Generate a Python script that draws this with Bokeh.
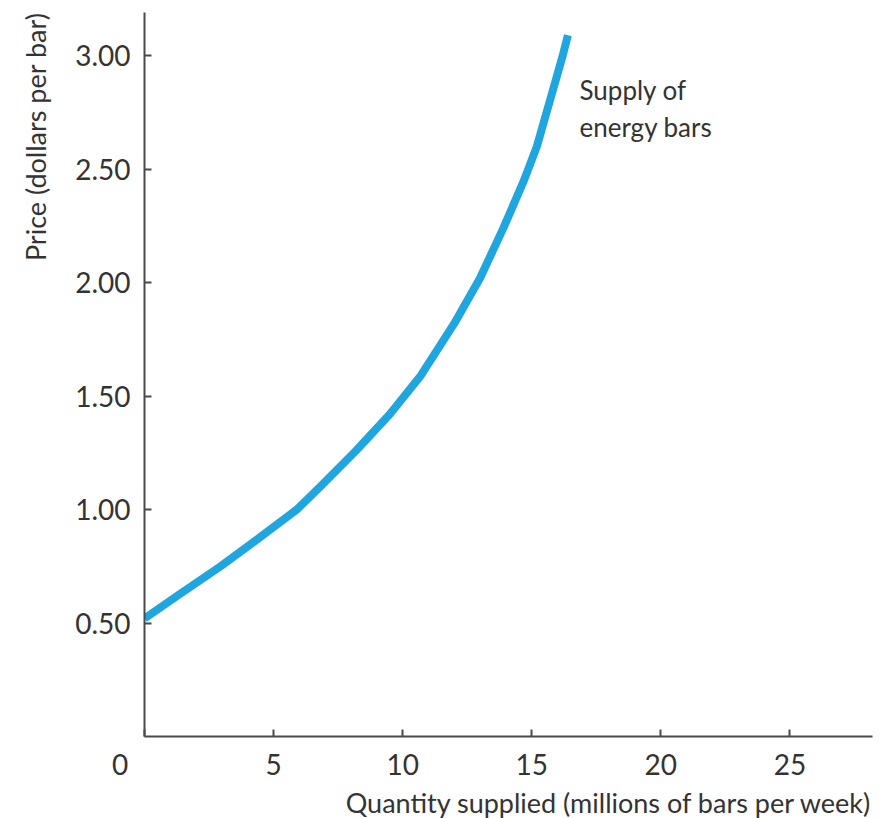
from bokeh.plotting import figure
from bokeh.models import FixedTicker, CustomJSTickFormatter, Label, Title
from bokeh.embed import file_html
from bokeh.resources import INLINE

# Supply schedule: quantity supplied (millions of bars per week) vs price (dollars per bar)
quantity = [0.0, 1.4, 2.95, 4.5, 5.9, 6.8, 8.2, 9.5, 10.7, 12.0, 13.0, 13.9, 14.7, 15.2, 15.7, 16.2, 16.4]
price = [0.52, 0.63, 0.75, 0.88, 1.00, 1.10, 1.26, 1.42, 1.59, 1.82, 2.02, 2.24, 2.45, 2.60, 2.80, 3.00, 3.09]

x_ticks = [0, 5, 10, 15, 20, 25]
y_ticks = [0.5, 1.0, 1.5, 2.0, 2.5, 3.0]

FONT = "Lato"
TEXT = "#333333"
AXIS = "#4a4a4a"
CURVE = "#1fa6de"

p = figure(width=888, height=818, output_backend="svg", toolbar_location=None,
           x_range=(0, 28.2), y_range=(0, 3.19),
           min_border_left=144, min_border_right=16,
           min_border_top=12, min_border_bottom=78)
p.outline_line_color = None
p.grid.visible = False
p.background_fill_color = "white"

p.line(quantity, price, line_color=CURVE, line_width=8, line_cap="butt", line_join="round")

for ax in (p.xaxis[0], p.yaxis[0]):
    ax.axis_line_color = AXIS
    ax.axis_line_width = 2
    ax.major_tick_line_color = AXIS
    ax.major_tick_line_width = 2
    ax.major_tick_in = 7
    ax.major_tick_out = 0
    ax.minor_tick_line_color = None
    ax.major_label_text_font = FONT
    ax.major_label_text_font_size = "28px"
    ax.major_label_text_color = TEXT

p.xaxis.ticker = FixedTicker(ticks=x_ticks)
# the origin's "0" sits just left of the corner
p.xaxis.major_label_overrides = {0: "0\u2007\u2007\u2007"}
p.xaxis.major_label_standoff = 10

p.yaxis.ticker = FixedTicker(ticks=y_ticks)
p.yaxis.formatter = CustomJSTickFormatter(code="return tick.toFixed(2);")
p.yaxis.major_label_standoff = 14

# axis titles, flush with the far ends of the axes
p.add_layout(Title(text="Quantity supplied (millions of bars per week)", align="right",
                   text_font=FONT, text_font_size="27px", text_font_style="normal",
                   text_color=TEXT, standoff=0), "below")
p.add_layout(Title(text="Price (dollars per bar)", align="right", vertical_align="top",
                   text_font=FONT, text_font_size="27px", text_font_style="normal",
                   text_color=TEXT, standoff=37), "left")

# curve annotation
p.add_layout(Label(x=16.85, y=2.92, text="Supply of\nenergy bars",
                   text_align="left", text_baseline="top", text_line_height=1.15,
                   text_font=FONT, text_font_size="26px", text_color=TEXT))

open("out.html", "w").write(file_html(p, INLINE))
